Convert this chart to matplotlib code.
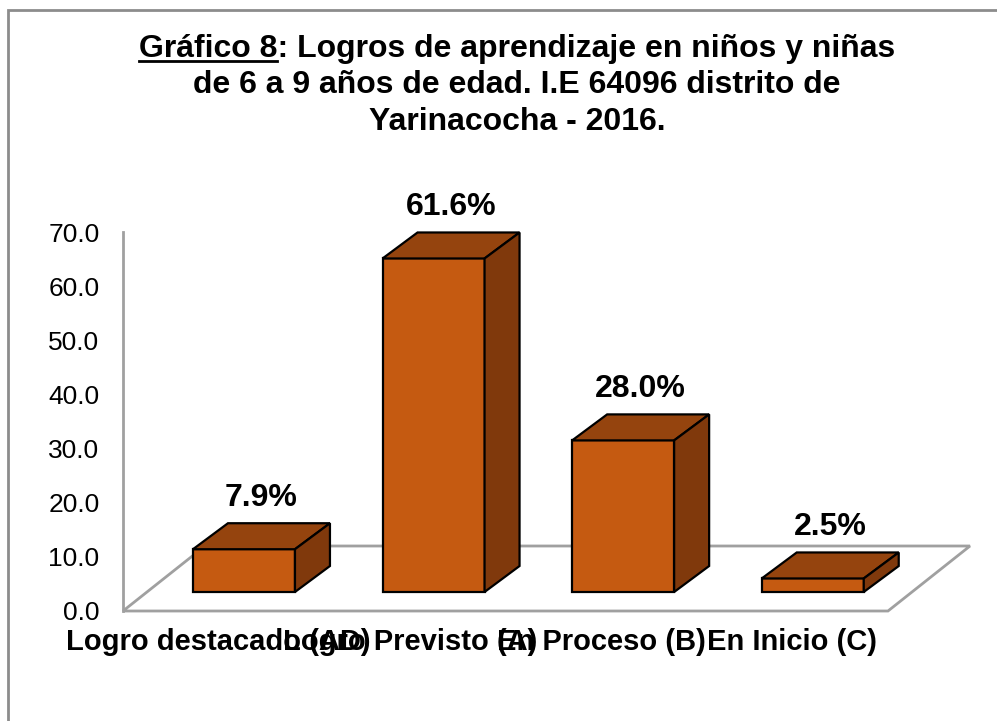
import matplotlib
matplotlib.use("Agg")
import matplotlib.pyplot as plt
from matplotlib.patches import Polygon, Rectangle
from matplotlib.lines import Line2D

# Data
categories = ["Logro destacado (AD)", "Logro Previsto (A)", "En Proceso (B)", "En Inicio (C)"]
values = [7.9, 61.6, 28.0, 2.5]
value_labels = ["7.9%", "61.6%", "28.0%", "2.5%"]
yticks = [0, 10, 20, 30, 40, 50, 60, 70]

# Colours of the 3D-looking bars
front_color = "#C55A11"
top_color = "#95440E"
side_color = "#80390C"
grid_gray = "#A0A0A0"

plt.rcParams["font.family"] = ["Liberation Sans", "DejaVu Sans"]

W, H = 997, 721
fig = plt.figure(figsize=(W / 100, H / 100), dpi=100)
fig.patch.set_facecolor("white")

# Outer chart frame (runs off the right and bottom edges)
fig.patches.append(Rectangle((8 / W, -0.05), 1.1, 1 - 10 / H + 0.05,
                             transform=fig.transFigure, fill=False,
                             edgecolor="#8C8C8C", linewidth=2))

# Plot area in pixels: x 123..888, y 611 (0) .. 232 (70)
ax_left, ax_right, ax_bottom, ax_top = 123, 888, 611, 232
ax = fig.add_axes([ax_left / W, 1 - ax_bottom / H,
                   (ax_right - ax_left) / W, (ax_bottom - ax_top) / H])
x0, x1 = -0.638, 3.397
ax.set_xlim(x0, x1)
ax.set_ylim(0, 70)
px_x = (ax_right - ax_left) / (x1 - x0)
px_y = (ax_bottom - ax_top) / 70.0

# Depth offsets (in pixels -> data units)
floor_dx, floor_dy = 82 / px_x, 65 / px_y
bar_dx, bar_dy = 35 / px_x, 26 / px_y
base = 19 / px_y
width = 102 / px_x

# Floor
floor = Polygon([(x0, 0), (x1, 0), (x1 + floor_dx, floor_dy), (x0 + floor_dx, floor_dy)],
                closed=True, fill=False, edgecolor=grid_gray, linewidth=2, clip_on=False, zorder=1)
ax.add_patch(floor)

xs = list(range(len(values)))
ax.bar(xs, values, width=width, bottom=base, color=front_color,
       edgecolor="black", linewidth=1.6, zorder=3)
for x, v, lab in zip(xs, values, value_labels):
    top = base + v
    xl, xr = x - width / 2, x + width / 2
    ax.add_patch(Polygon([(xl, top), (xr, top), (xr + bar_dx, top + bar_dy), (xl + bar_dx, top + bar_dy)],
                         closed=True, facecolor=top_color, edgecolor="black",
                         linewidth=1.6, clip_on=False, zorder=3))
    ax.add_patch(Polygon([(xr, base), (xr + bar_dx, base + bar_dy), (xr + bar_dx, top + bar_dy), (xr, top)],
                         closed=True, facecolor=side_color, edgecolor="black",
                         linewidth=1.6, clip_on=False, zorder=3))
    ax.text(x + bar_dx / 2, top + bar_dy + 3.2, lab, ha="center", va="baseline",
            fontsize=23, fontweight="bold", zorder=4)

# Axes styling
for s in ["top", "right", "bottom"]:
    ax.spines[s].set_visible(False)
ax.spines["left"].set_color(grid_gray)
ax.spines["left"].set_linewidth(2)
ax.set_yticks(yticks)
ax.set_yticklabels(["%.1f" % t for t in yticks])
ax.tick_params(axis="y", length=0, pad=17, labelsize=19)
slot = (x1 - x0) / len(categories)
ax.set_xticks([x0 + slot * (i + 0.5) for i in range(len(categories))])
ax.set_xticklabels(categories, fontweight="bold")
ax.tick_params(axis="x", length=0, pad=12, labelsize=21)
ax.patch.set_visible(False)

# Title, three lines
title_lines = ["Gráfico 8: Logros de aprendizaje en niños y niñas",
               "de 6 a 9 años de edad. I.E 64096 distrito de",
               "Yarinacocha - 2016."]
baselines = [57, 93, 130]
cx = 517 / W
texts = []
for line, b in zip(title_lines, baselines):
    texts.append(fig.text(cx, 1 - b / H, line, ha="center", va="baseline",
                          fontsize=23, fontweight="bold"))

# Underline "Gráfico 8"
fig.canvas.draw()
r = fig.canvas.get_renderer()
bb = texts[0].get_window_extent(r)
tmp = fig.text(0, 0, "Gráfico 8", fontsize=23, fontweight="bold")
wpart = tmp.get_window_extent(r).width
tmp.remove()
uy = 1 - (baselines[0] + 4) / H
fig.lines.append(Line2D([bb.x0 / W, (bb.x0 + wpart) / W], [uy, uy],
                        transform=fig.transFigure, color="black", linewidth=2))

fig.savefig("out.png", dpi=100)
